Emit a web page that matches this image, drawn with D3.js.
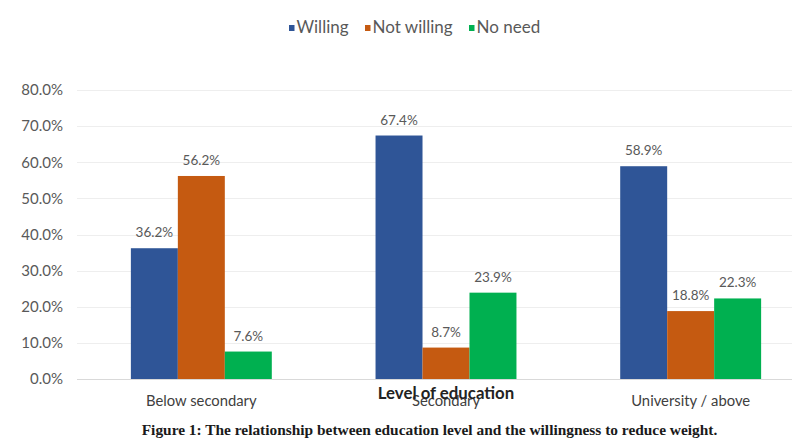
<!DOCTYPE html>
<html><head><meta charset="utf-8">
<script src="https://cdn.jsdelivr.net/npm/d3@7/dist/d3.min.js"></script>
<style>
html,body{margin:0;padding:0;background:#fff;}
svg{display:block;}
</style></head>
<body><svg id="chart" width="792" height="439"></svg>
<script>
const categories = ["Below secondary", "Secondary", "University / above"];
const seriesNames = ["Willing", "Not willing", "No need"];
const willing = [36.2, 67.4, 58.9];
const notWilling = [56.2, 8.7, 18.8];
const noNeed = [7.6, 23.9, 22.3];
const yTicks = [0, 10, 20, 30, 40, 50, 60, 70, 80];
const colors = ["#2F5597", "#C55A11", "#00B050"];
const xTitle = "Level of education";
const caption = "Figure 1: The relationship between education level and the willingness to reduce weight.";

const seriesValues = [willing, notWilling, noNeed];
const svg = d3.select("#chart");
const plotLeft = 79, plotRight = 813, plotTop = 90, plotBottom = 379;
const sans = "Lato, 'Open Sans', sans-serif";

const x = d3.scaleBand().domain(categories).range([plotLeft, plotRight]).paddingInner(0.424).paddingOuter(0.212);
const xs = d3.scaleBand().domain(seriesNames).range([0, x.bandwidth()]);
const y = d3.scaleLinear().domain([0, 80]).range([plotBottom, plotTop]);

// gridlines
svg.append("g").selectAll("line").data(yTicks.filter(t => t > 0)).join("line")
  .attr("x1", plotLeft - 2).attr("x2", 792)
  .attr("y1", d => Math.round(y(d)) + 0.5).attr("y2", d => Math.round(y(d)) + 0.5)
  .attr("stroke", "#EEEEEE").attr("stroke-width", 1);

// y axis labels
const yAxis = d3.axisLeft(y).tickValues(yTicks).tickSize(0).tickPadding(0)
  .tickFormat(d => d.toFixed(1) + "%");
const gy = svg.append("g").attr("transform", `translate(63,0)`).call(yAxis);
gy.select(".domain").remove();
gy.selectAll("text").attr("font-family", sans).attr("font-size", 15)
  .attr("fill", "#595959");

// bars
const groups = svg.append("g").selectAll("g").data(categories).join("g")
  .attr("transform", d => `translate(${x(d)},0)`);
groups.each(function(cat, ci) {
  const g = d3.select(this);
  seriesNames.forEach((s, si) => {
    const v = seriesValues[si][ci];
    g.append("rect").attr("x", xs(s)).attr("width", xs.bandwidth())
      .attr("y", y(v)).attr("height", y(0) - y(v)).attr("fill", colors[si]);
    g.append("text").attr("x", xs(s) + xs.bandwidth() / 2).attr("y", y(v) - 11)
      .attr("text-anchor", "middle").attr("font-family", sans)
      .attr("font-size", 13.5).attr("fill", "#595959").text(v.toFixed(1) + "%");
  });
});

// x axis baseline
svg.append("line").attr("x1", plotLeft - 2).attr("x2", 792).attr("y1", plotBottom + 0.5).attr("y2", plotBottom + 0.5)
  .attr("stroke", "#D9D9D9").attr("stroke-width", 1);

// x axis labels
const xAxis = d3.axisBottom(x).tickSize(0).tickPadding(0);
const gx = svg.append("g").attr("transform", `translate(0,${plotBottom})`).call(xAxis);
gx.select(".domain").remove();
gx.selectAll("text").attr("dy", null).attr("y", 27).attr("font-family", sans)
  .attr("font-size", 14.8).attr("fill", "#404040");

// x title
svg.append("text").attr("x", (x(categories[1]) + x.bandwidth() / 2)).attr("y", 399)
  .attr("text-anchor", "middle").attr("font-family", sans)
  .attr("font-weight", "bold").attr("font-size", 16.8).attr("fill", "#222").text(xTitle);

// legend
const legendX = [289, 365, 469];
const lg = svg.append("g").selectAll("g").data(seriesNames).join("g")
  .attr("transform", (d, i) => `translate(${legendX[i]},27)`);
lg.append("rect").attr("x", 0).attr("y", -2).attr("width", 5.5).attr("height", 6).attr("fill", (d, i) => colors[i]);
lg.append("text").attr("x", 7.5).attr("y", 6).attr("font-family", sans)
  .attr("font-size", 17).attr("fill", "#595959").text(d => d);

// caption
svg.append("text").attr("x", 429.5).attr("y", 435).attr("text-anchor", "middle")
  .attr("font-family", "'Liberation Serif', serif").attr("font-weight", "bold")
  .attr("font-size", 15.4).attr("fill", "#1a1a1a").text(caption);
</script></body></html>
